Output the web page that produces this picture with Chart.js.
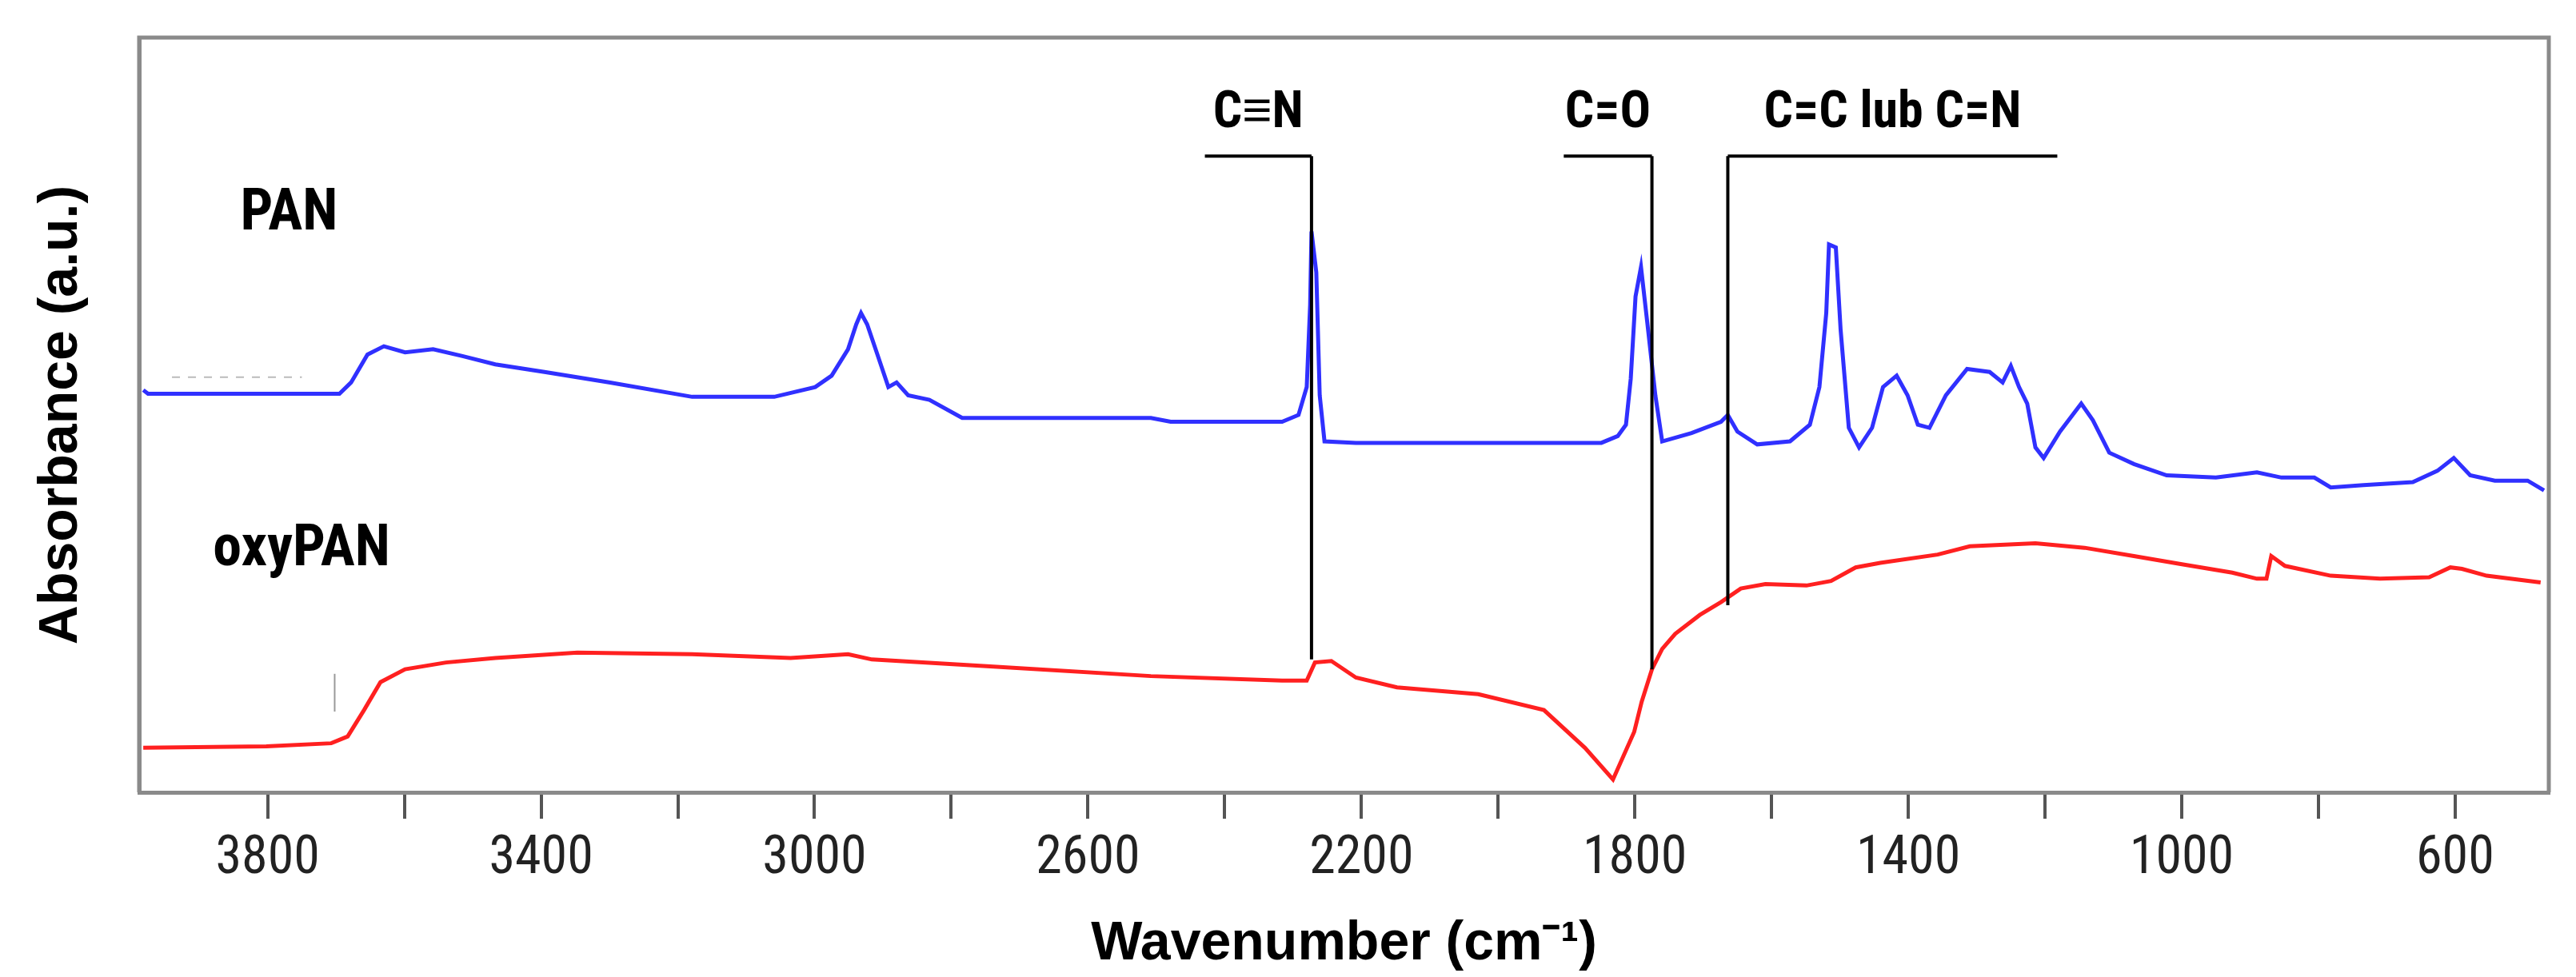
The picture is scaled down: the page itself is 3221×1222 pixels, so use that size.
<!DOCTYPE html>
<html><head><meta charset="utf-8">
<script src="https://cdn.jsdelivr.net/npm/chart.js@4"></script>
<style>html,body{margin:0;padding:0;background:#fff}#w{width:3221px;height:1222px}</style>
</head><body><div id="w"><canvas id="c"></canvas></div>
<script>
const panWave = [3982,3975,3695,3678,3654,3630,3599,3558,3515,3467,3395,3299,3179,3059,2999,2975,2951,2939,2932,2923,2908,2892,2880,2863,2832,2784,2508,2479,2316,2292,2280,2275,2273,2266,2261,2254,2208,1849,1825,1813,1806,1799,1791,1782,1770,1760,1717,1674,1664,1650,1621,1573,1544,1530,1520,1516,1506,1499,1487,1472,1453,1437,1417,1401,1386,1369,1345,1314,1281,1262,1250,1238,1226,1214,1202,1178,1147,1130,1106,1070,1022,950,890,854,806,782,734,662,626,602,578,542,494,470];
const panAbs = [53.3,52.8,52.8,54.3,58.0,59.1,58.3,58.7,57.8,56.7,55.7,54.3,52.4,52.4,53.7,55.2,58.7,62.0,63.5,62.0,58.0,53.7,54.3,52.6,52.0,49.6,49.6,49.1,49.1,50.0,53.7,64.6,74.3,68.9,52.6,46.5,46.3,46.3,47.2,48.7,54.8,65.7,69.6,62.4,52.6,46.5,47.6,49.1,50.0,47.8,46.1,46.5,48.7,53.7,63.5,72.6,72.2,61.3,48.3,45.7,48.3,53.7,55.2,52.6,48.7,48.3,52.6,56.1,55.7,54.3,56.5,53.7,51.5,45.7,44.3,47.8,51.5,49.3,45.0,43.5,42.0,41.7,42.4,41.7,41.7,40.4,40.7,41.1,42.6,44.3,42.0,41.3,41.3,40.0];
const oxyWave = [3982,3802,3707,3683,3659,3635,3599,3539,3467,3347,3179,3035,2951,2916,2748,2508,2316,2280,2268,2244,2208,2148,2029,1933,1873,1832,1801,1790,1775,1760,1741,1705,1674,1645,1609,1549,1513,1477,1441,1357,1310,1214,1142,1070,998,926,890,876,869,849,782,710,638,607,590,554,475];
const oxyAbs = [5.9,6.1,6.5,7.4,10.9,14.6,16.3,17.2,17.8,18.5,18.3,17.8,18.3,17.6,16.7,15.4,14.8,14.8,17.2,17.4,15.2,13.9,13.0,10.9,5.9,1.7,8.0,12.0,16.3,19.0,21.0,23.5,25.2,27.0,27.6,27.4,28.0,29.8,30.4,31.5,32.6,33.0,32.4,31.3,30.2,29.1,28.3,28.3,31.3,30.0,28.7,28.3,28.5,29.8,29.6,28.7,27.8];
const tickValues = [3800,3600,3400,3200,3000,2800,2600,2400,2200,2000,1800,1600,1400,1200,1000,800,600];
const bandLabels = ["C≡N","C=O","C=C lub C=N"];
const bandLineWave = [2273,1775,1664];
const bandLineEnd = [17.6,16.3,24.8];
const bandBracketFrom = [2429,1904,1664];
const bandBracketTo = [2273,1775,1182];
const seriesNames = ["PAN","oxyPAN"];

const mk = (w,a)=>w.map((x,i)=>({x:x,y:a[i]}));
const narrow = "'Liberation Sans Narrow','Roboto Condensed','Liberation Sans',Arial,sans-serif";

const annot = {
  id:'annot',
  afterDatasetsDraw(ch){
    const c=ch.ctx, xs=ch.scales.x, ys=ch.scales.y, a=ch.chartArea;
    c.save();
    c.strokeStyle='#8a8a8a'; c.lineWidth=5;
    c.beginPath(); c.moveTo(a.left,a.bottom); c.lineTo(a.left,a.top); c.lineTo(a.right,a.top); c.lineTo(a.right,a.bottom); c.stroke();
    c.strokeStyle='#000'; c.lineWidth=4;
    const by=ys.getPixelForValue(84.3);
    for(let i=0;i<bandLabels.length;i++){
      c.beginPath();
      c.moveTo(xs.getPixelForValue(bandBracketFrom[i]),by);
      c.lineTo(xs.getPixelForValue(bandBracketTo[i]),by);
      c.moveTo(xs.getPixelForValue(bandLineWave[i]),by);
      c.lineTo(xs.getPixelForValue(bandLineWave[i]),ys.getPixelForValue(bandLineEnd[i]));
      c.stroke();
      c.fillStyle='#000'; c.font='bold 64px '+narrow; c.textAlign='center'; c.textBaseline='middle';
      const cx=(xs.getPixelForValue(bandBracketFrom[i])+xs.getPixelForValue(bandBracketTo[i]))/2;
      c.fillText(bandLabels[i],cx,ys.getPixelForValue(89.8));
    }
    c.font='bold 72px '+narrow; c.textAlign='left';
    c.fillText(seriesNames[0],xs.getPixelForValue(3840),ys.getPixelForValue(76.5));
    c.fillText(seriesNames[1],xs.getPixelForValue(3880),ys.getPixelForValue(32));
    c.strokeStyle='#999'; c.lineWidth=2;
    c.beginPath(); c.moveTo(xs.getPixelForValue(3702),ys.getPixelForValue(15.7)); c.lineTo(xs.getPixelForValue(3702),ys.getPixelForValue(10.7)); c.stroke();
    c.strokeStyle='#bbb'; c.setLineDash([10,10]);
    c.beginPath(); c.moveTo(xs.getPixelForValue(3940),ys.getPixelForValue(55)); c.lineTo(xs.getPixelForValue(3750),ys.getPixelForValue(55)); c.stroke();
    c.restore();
  }
};

new Chart(document.getElementById('c'),{
  type:'line',
  data:{datasets:[
    {label:seriesNames[0],data:mk(panWave,panAbs),borderColor:'#3030ff',borderWidth:5,pointRadius:0,tension:0},
    {label:seriesNames[1],data:mk(oxyWave,oxyAbs),borderColor:'#ff2020',borderWidth:5,pointRadius:0,tension:0}
  ]},
  options:{
    responsive:true,maintainAspectRatio:false,animation:false,
    layout:{padding:{left:0,right:34,top:47,bottom:0}},
    plugins:{legend:{display:false},tooltip:{enabled:false}},
    scales:{
      x:{type:'linear',reverse:true,min:463,max:3988,
        afterBuildTicks(s){s.ticks=tickValues.map(v=>({value:v}));},
        afterFit(s){s.height=231;},
        ticks:{autoSkip:false,maxRotation:0,padding:12,color:'#222',font:{family:narrow,size:66},
          callback:(v)=>((3800-v)%400===0?String(v):'')},
        grid:{drawOnChartArea:false,drawTicks:true,tickLength:33,color:'#555',lineWidth:4},
        border:{display:true,color:'#8a8a8a',width:5},
        title:{display:true,text:'Wavenumber (cm⁻¹)',color:'#000',font:{family:"'Liberation Sans',Arial,sans-serif",weight:'bold',size:68},padding:{top:0,bottom:0}}
      },
      y:{min:0,max:100,
        afterFit(s){s.width=174;},
        ticks:{display:false},
        grid:{display:false},
        border:{display:true,color:'#8a8a8a',width:5},
        title:{display:true,text:'Absorbance (a.u.)',color:'#000',font:{family:"'Liberation Sans',Arial,sans-serif",weight:'bold',size:68},padding:{top:36,bottom:0}}
      }
    }
  },
  plugins:[annot]
});
</script></body></html>
